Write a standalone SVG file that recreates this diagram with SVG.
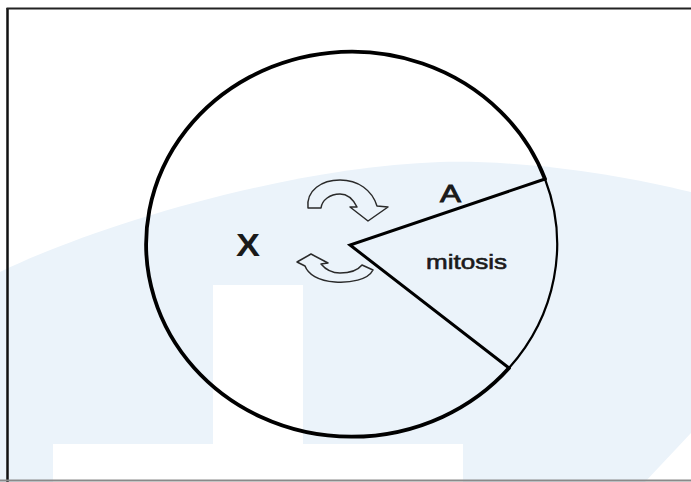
<svg xmlns="http://www.w3.org/2000/svg" width="691" height="482" viewBox="0 0 691 482">
<style>
  .lbl{font-family:"Liberation Sans",Arial,sans-serif;fill:#1a1a1a}
  .cyc{fill:none;stroke:#000;stroke-linecap:round}
  .arr{fill:none;stroke:#2a2a2a;stroke-width:1.5;stroke-linejoin:round}
</style>
<rect width="691" height="482" fill="#ffffff"/>
<g id="background">
  <path d="M0,272 C90,228 280,168 440,162 C530,160 620,175 691,192 L691,433 L645,482 L0,482 Z" fill="#ebf3fa"/>
  <rect x="213" y="285" width="90" height="197" fill="#ffffff"/>
  <rect x="53" y="444" width="410" height="38" fill="#ffffff"/>
</g>
<g id="frame">
  <line x1="7.5" y1="8" x2="7.5" y2="482" stroke="#111" stroke-width="2.5"/>
  <line x1="6.5" y1="8.5" x2="691" y2="8.5" stroke="#222" stroke-width="2"/>
  <line x1="0" y1="480.5" x2="691" y2="480.5" stroke="#8a8a8a" stroke-width="2"/>
</g>
<g id="cell-cycle">
  <path class="cyc" d="M545,179 A205.5,192.5 0 1 0 509,368" stroke-width="3.8"/>
  <path class="cyc" d="M545,179 A205.5,192.5 0 0 1 509,368" stroke-width="2.2"/>
</g>
<g id="connectors">
  <polyline points="545,179 350,245 509,368" fill="none" stroke="#000" stroke-width="3" stroke-linejoin="miter"/>
</g>
<g id="arrow-top">
  <path class="arr" d="M308,208 C306,190 322,180 340,180 C358,180 372,190 377,206 L388,207 L368,221 L350,207 L357,207 C353,199 348,194 340,194 C330,194 322,200 321,208 Z"/>
</g>
<g id="arrow-bottom">
  <path class="arr" d="M373,270 C368,280 350,283 335,282 C318,281 308,274 305,266 L297,262 L311,254 L328,263 L321,264 C326,270 332,273 340,273 C350,273 358,270 362,265 Z"/>
</g>
<g id="label-A"><text class="lbl" x="440" y="202" font-size="24" stroke="#1a1a1a" stroke-width="0.9" textLength="21" lengthAdjust="spacingAndGlyphs">A</text></g>
<g id="label-X"><text class="lbl" x="236" y="256" font-size="31" font-weight="bold" textLength="24" lengthAdjust="spacingAndGlyphs">X</text></g>
<g id="label-mitosis"><text class="lbl" x="426" y="269" font-size="21" stroke="#1a1a1a" stroke-width="0.6" textLength="81" lengthAdjust="spacingAndGlyphs">mitosis</text></g>
</svg>
